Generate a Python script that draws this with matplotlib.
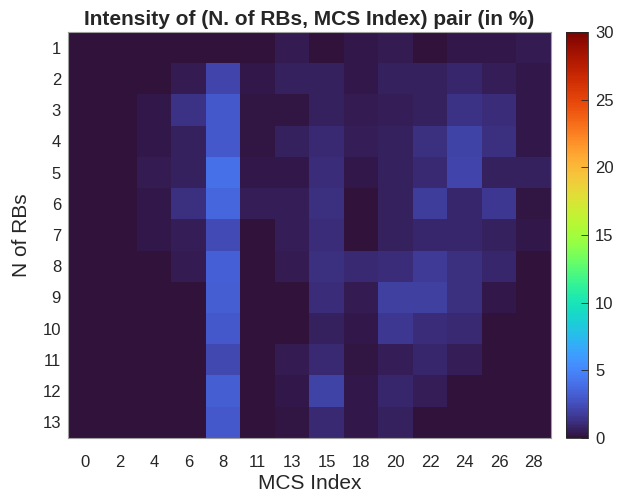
import matplotlib
matplotlib.use("Agg")
import matplotlib.pyplot as plt
import numpy as np

plt.rcParams['font.family'] = ['Liberation Sans', 'DejaVu Sans']

mcs_labels = ['0', '2', '4', '6', '8', '11', '13', '15', '18', '20', '22', '24', '26', '28']
rb_labels = [str(i) for i in range(1, 14)]

# intensity (%) per (N of RBs, MCS index)
row1 = [0.1, 0.1, 0.1, 0.1, 0.1, 0.1, 0.4, 0.0, 0.3, 0.4, 0.0, 0.3, 0.3, 0.4]
row2 = [0.1, 0.1, 0.1, 0.4, 2.2, 0.3, 0.7, 0.7, 0.3, 0.7, 0.7, 0.9, 0.5, 0.3]
row3 = [0.0, 0.0, 0.3, 1.3, 3.0, 0.2, 0.2, 0.7, 0.4, 0.5, 0.7, 1.3, 1.1, 0.3]
row4 = [0.0, 0.0, 0.3, 0.7, 3.0, 0.2, 0.6, 1.0, 0.5, 0.6, 1.2, 2.0, 1.2, 0.3]
row5 = [0.0, 0.0, 0.4, 0.7, 4.1, 0.3, 0.3, 1.1, 0.3, 0.6, 1.0, 2.2, 0.6, 0.7]
row6 = [0.0, 0.0, 0.3, 1.2, 3.6, 0.5, 0.5, 1.2, 0.1, 0.7, 1.8, 0.9, 1.6, 0.2]
row7 = [0.0, 0.0, 0.3, 0.5, 2.4, 0.0, 0.5, 1.1, 0.1, 0.6, 0.9, 0.9, 0.7, 0.3]
row8 = [0.0, 0.0, 0.0, 0.4, 3.3, 0.0, 0.4, 1.2, 1.0, 1.1, 1.7, 1.2, 0.9, 0.1]
row9 = [0.0, 0.0, 0.0, 0.0, 3.2, 0.0, 0.1, 1.1, 0.4, 1.9, 1.9, 1.2, 0.3, 0.1]
row10 = [0.0, 0.0, 0.0, 0.0, 3.0, 0.0, 0.1, 0.6, 0.3, 1.6, 1.1, 1.0, 0.1, 0.1]
row11 = [0.0, 0.0, 0.0, 0.0, 2.3, 0.0, 0.4, 1.0, 0.2, 0.5, 0.9, 0.5, 0.1, 0.1]
row12 = [0.0, 0.0, 0.0, 0.0, 3.2, 0.0, 0.3, 2.1, 0.3, 0.9, 0.5, 0.05, 0.05, 0.05]
row13 = [0.0, 0.0, 0.0, 0.0, 3.0, 0.0, 0.2, 1.0, 0.3, 0.6, 0.0, 0.05, 0.05, 0.05]

data = np.array([row1, row2, row3, row4, row5, row6, row7, row8, row9,
                 row10, row11, row12, row13])

fig = plt.figure(figsize=(6.23, 5.03), dpi=100)
ax = fig.add_axes([68/623, 1 - 438/503, (551-68)/623, (438-32)/503])
cax = fig.add_axes([566/623, 1 - 438/503, (588-566)/623, (438-32)/503])

im = ax.imshow(data, cmap='turbo', vmin=0, vmax=30, aspect='auto',
               interpolation='nearest')

ax.set_xticks(np.arange(len(mcs_labels)))
ax.set_xticklabels(mcs_labels)
ax.set_yticks(np.arange(len(rb_labels)))
ax.set_yticklabels(rb_labels)
ax.tick_params(length=0, labelsize=12, colors='#262626')
ax.tick_params(axis='x', pad=12)
ax.tick_params(axis='y', pad=5)
for s in ax.spines.values():
    s.set_color('#a0a0a0')
    s.set_linewidth(0.8)

ax.set_title('Intensity of (N. of RBs, MCS Index) pair (in %)',
             fontsize=15, fontweight='bold', color='#262626', pad=5)
ax.set_xlabel('MCS Index', fontsize=15, color='#262626', labelpad=3)
ax.set_ylabel('N of RBs', fontsize=15, color='#262626', labelpad=8)

cb = fig.colorbar(im, cax=cax, ticks=[0, 5, 10, 15, 20, 25, 30])
cb.ax.tick_params(direction='in', length=5, labelsize=12, colors='#262626',
                  width=0.6, pad=5)
cb.outline.set_edgecolor('#262626')
cb.outline.set_linewidth(0.6)

plt.savefig('out.png', dpi=100)
